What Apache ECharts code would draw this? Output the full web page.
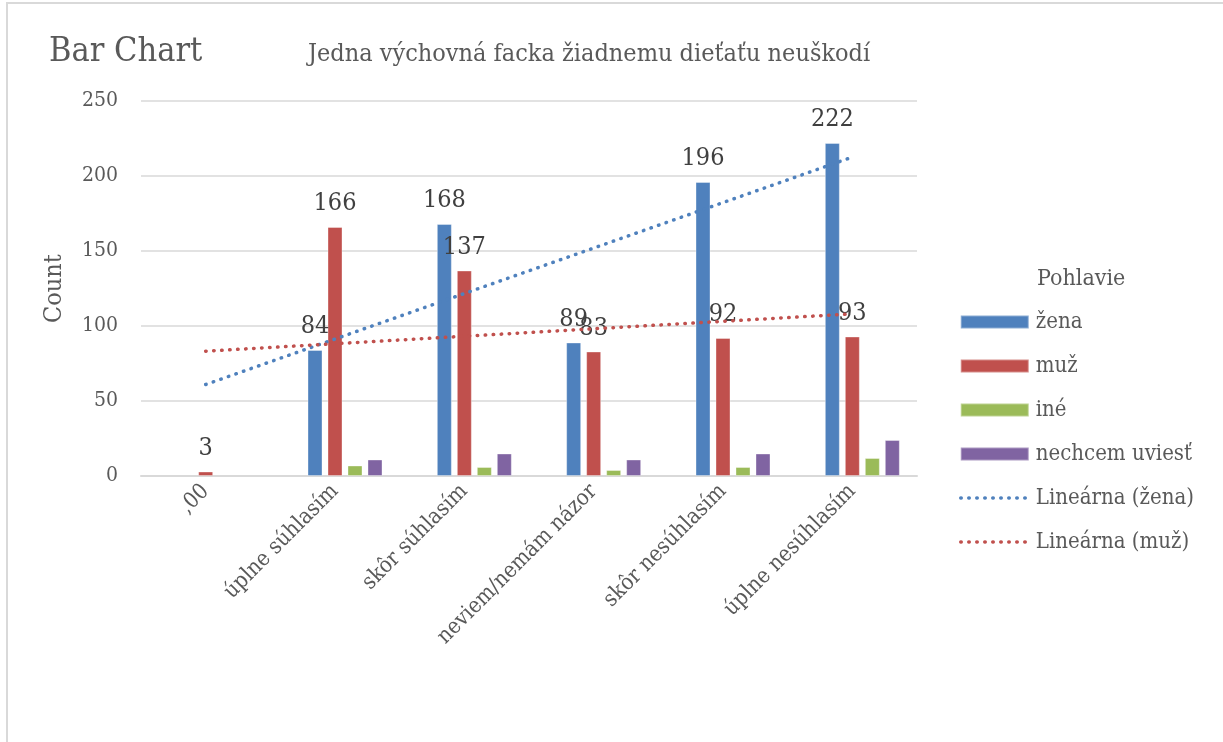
<!DOCTYPE html>
<html>
<head>
<meta charset="utf-8">
<script src="https://cdn.jsdelivr.net/npm/echarts@6/dist/echarts.min.js"></script>
<style>html,body{margin:0;padding:0;background:#fff;}#c{width:1223px;height:742px;}</style>
</head>
<body>
<div id="c"></div>
<script>
const categories = [',00', 'úplne súhlasím', 'skôr súhlasím', 'neviem/nemám názor', 'skôr nesúhlasím', 'úplne nesúhlasím'];
const zena = [null, 84, 168, 89, 196, 222];
const muz = [3, 166, 137, 83, 92, 93];
const ine = [null, 7, 6, 4, 6, 12];
const nechcem = [null, 11, 15, 11, 15, 24];
const trendZena = [61, null, null, null, null, 212.6];
const trendMuz = [83.2, null, null, null, null, 108.1];
const yTicks = [0, 50, 100, 150, 200, 250];

const FONT = 'DejaVu Serif Condensed';
const TXT = '#595959';
const chart = echarts.init(document.getElementById('c'));

const dotted = (color) => ({ color: color, width: 3.5, type: [0.5, 7.5], cap: 'round' });

function barSeries(name, data, color, showLabel) {
  return {
    name: name, type: 'bar', data: data, barWidth: 15, barGap: '33.3%',
    itemStyle: { color: color, borderColor: 'rgba(255,255,255,0.35)', borderWidth: 1 },
    label: { show: showLabel, position: 'top', distance: 11, fontFamily: FONT, fontSize: 25, color: '#404040' },
    emphasis: { disabled: true }
  };
}
function trendSeries(name, data, color) {
  return {
    name: name, type: 'line', data: data, connectNulls: true, symbol: 'none', z: 5,
    lineStyle: dotted(color),
    itemStyle: { color: color },
    emphasis: { disabled: true }
  };
}

chart.setOption({
  animation: false,
  title: [
    { text: 'Bar Chart', left: 44, top: 30, textStyle: { fontFamily: FONT, fontSize: 34, fontWeight: 'normal', color: TXT } },
    { text: 'Jedna výchovná facka žiadnemu dieťaťu neuškodí', left: 303, top: 37, textStyle: { fontFamily: FONT, fontSize: 25, fontWeight: 'normal', color: TXT } },
    { text: 'Pohlavie', left: 1032, top: 263, textStyle: { fontFamily: FONT, fontSize: 23, fontWeight: 'normal', color: TXT } }
  ],
  graphic: [
    { type: 'rect', shape: { x: 7, y: 3, width: 1240, height: 760 }, style: { fill: 'none', stroke: '#d9d9d9', lineWidth: 2 }, silent: true }
  ],
  legend: {
    orient: 'vertical', left: 959, top: 311, padding: 0, itemWidth: 68, itemHeight: 13, itemGap: 22,
    textStyle: { fontFamily: FONT, fontSize: 22, color: TXT, padding: [0, 0, 0, 2] },
    selectedMode: false,
    data: [
      { name: 'žena', icon: 'rect' },
      { name: 'muž', icon: 'rect' },
      { name: 'iné', icon: 'rect' },
      { name: 'nechcem uviesť', icon: 'rect' },
      { name: 'Lineárna (žena)', itemStyle: { opacity: 0 }, lineStyle: dotted('#4F81BD') },
      { name: 'Lineárna (muž)', itemStyle: { opacity: 0 }, lineStyle: dotted('#C0504D') }
    ]
  },
  grid: { left: 141, right: 306, top: 101, bottom: 266 },
  xAxis: {
    type: 'category', data: categories,
    axisLine: { lineStyle: { color: '#d9d9d9', width: 2 } },
    axisTick: { show: false },
    axisLabel: { interval: 0, rotate: 45, margin: 12, fontFamily: FONT, fontSize: 22, color: TXT }
  },
  yAxis: {
    type: 'value', min: yTicks[0], max: yTicks[yTicks.length - 1], interval: 50,
    name: 'Count', nameLocation: 'middle', nameGap: 74, nameRotate: 90,
    nameTextStyle: { fontFamily: FONT, fontSize: 25, color: TXT },
    axisLine: { show: false }, axisTick: { show: false },
    axisLabel: { margin: 23, fontFamily: FONT, fontSize: 21, color: TXT },
    splitLine: { lineStyle: { color: '#d9d9d9', width: 1.5 } }
  },
  series: [
    barSeries('', [null, null, null, null, null, null], 'transparent', false),
    barSeries('žena', zena, '#4F81BD', true),
    barSeries('muž', muz, '#C0504D', true),
    barSeries('iné', ine, '#9BBB59', false),
    barSeries('nechcem uviesť', nechcem, '#8064A2', false),
    trendSeries('Lineárna (žena)', trendZena, '#4F81BD'),
    trendSeries('Lineárna (muž)', trendMuz, '#C0504D')
  ]
});
</script>
</body>
</html>
